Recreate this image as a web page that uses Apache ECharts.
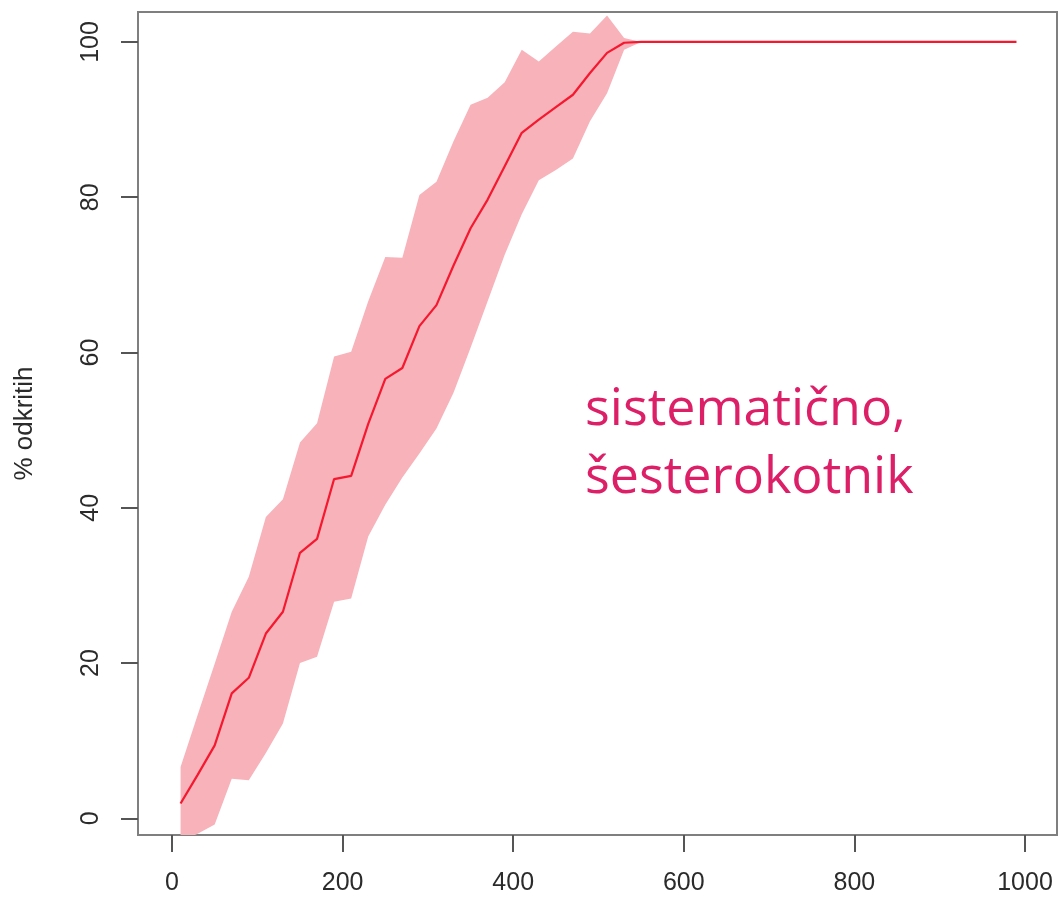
<!DOCTYPE html>
<html>
<head>
<meta charset="utf-8">
<script src="https://cdn.jsdelivr.net/npm/echarts@6/dist/echarts.min.js"></script>
<style>
  html, body { margin: 0; padding: 0; background: #ffffff; }
  #chart { width: 1061px; height: 902px; }
</style>
</head>
<body>
<div id="chart"></div>
<script>
// Number of searched cells (x) and share of found targets, mean with band
const cells = [10, 30, 50, 70, 90, 110, 130, 150, 170, 190,
               210, 230, 250, 270, 290, 310, 330, 350, 370, 390,
               410, 430, 450, 470, 490, 510, 530, 550, 570, 590,
               610, 630, 650, 670, 690, 710, 730, 750, 770, 790,
               810, 830, 850, 870, 890, 910, 930, 950, 970, 990];

const meanFound = [1.9, 5.6, 9.4, 16.1, 18.1, 23.8, 26.6, 34.2, 36.0, 43.7,
                   44.1, 50.8, 56.6, 58.0, 63.4, 66.1, 71.2, 76.0, 79.7, 84.0,
                   88.3, 90.0, 91.6, 93.2, 96.0, 98.6, 99.9, 100, 100, 100,
                   100, 100, 100, 100, 100, 100, 100, 100, 100, 100,
                   100, 100, 100, 100, 100, 100, 100, 100, 100, 100];

const upperFound = [6.6, 13.3, 19.9, 26.6, 31.1, 38.8, 41.1, 48.4, 50.9, 59.5,
                    60.1, 66.6, 72.3, 72.2, 80.3, 82.0, 87.2, 91.9, 92.8, 94.8,
                    99.0, 97.5, 99.4, 101.3, 101.1, 103.4, 100.5, 100, 100, 100,
                    100, 100, 100, 100, 100, 100, 100, 100, 100, 100,
                    100, 100, 100, 100, 100, 100, 100, 100, 100, 100];

const lowerFound = [-3.0, -2.0, -0.8, 5.1, 4.9, 8.4, 12.2, 20.0, 20.8, 27.9,
                    28.3, 36.3, 40.4, 43.9, 47.0, 50.2, 54.8, 60.6, 66.6, 72.6,
                    77.8, 82.2, 83.5, 85.0, 89.8, 93.4, 99.0, 100, 100, 100,
                    100, 100, 100, 100, 100, 100, 100, 100, 100, 100,
                    100, 100, 100, 100, 100, 100, 100, 100, 100, 100];

const xTicks = [0, 200, 400, 600, 800, 1000];
const yTicks = [0, 20, 40, 60, 80, 100];

const yTitle = '% odkritih';
const noteLines = ['sistematično,', 'šesterokotnik'];

const chart = echarts.init(document.getElementById('chart'), null, { renderer: 'canvas' });

const tickFont = { fontFamily: '"Liberation Sans", Arial, sans-serif', fontSize: 25, color: '#2b2b2b' };

// Band polygon: upper bound left-to-right, then lower bound right-to-left
function renderBand(params, api) {
  const pts = [];
  for (let i = 0; i < cells.length; i++) pts.push(api.coord([cells[i], upperFound[i]]));
  for (let i = cells.length - 1; i >= 0; i--) pts.push(api.coord([cells[i], lowerFound[i]]));
  const cs = params.coordSys;
  return {
    type: 'polygon',
    shape: { points: pts },
    style: { fill: '#f7b2ba', stroke: null },
    clipPath: { type: 'rect', shape: { x: cs.x, y: cs.y, width: cs.width, height: cs.height } }
  };
}

chart.setOption({
  backgroundColor: '#ffffff',
  animation: false,
  grid: {
    left: 138, top: 12, width: 919, height: 823,
    show: true, borderColor: '#7f7f7f', borderWidth: 2, backgroundColor: 'transparent'
  },
  xAxis: {
    type: 'value',
    min: -39.9, max: 1037.5,
    axisLine: { show: false, onZero: false },
    splitLine: { show: false },
    axisTick: { show: true, customValues: xTicks, length: 17, lineStyle: { color: '#555', width: 2 } },
    axisLabel: Object.assign({ customValues: xTicks, margin: 36, formatter: v => String(v) }, tickFont)
  },
  yAxis: {
    type: 'value',
    min: -2.15, max: 103.86,
    name: yTitle,
    nameLocation: 'middle',
    nameRotate: 90,
    nameGap: 100,
    nameTextStyle: { fontFamily: '"Liberation Sans", Arial, sans-serif', fontSize: 26, color: '#2b2b2b' },
    axisLine: { show: false, onZero: false },
    splitLine: { show: false },
    axisTick: { show: true, customValues: yTicks, length: 17, lineStyle: { color: '#555', width: 2 } },
    axisLabel: Object.assign({ customValues: yTicks, rotate: 90, margin: 34, formatter: v => String(v) }, tickFont)
  },
  graphic: [
    {
      type: 'text', left: 585, top: 384, z: 100,
      style: { text: noteLines[0], font: '52px "Open Sans", sans-serif', fill: '#dc1f66' }
    },
    {
      type: 'text', left: 585, top: 452, z: 100,
      style: { text: noteLines[1], font: '52px "Open Sans", sans-serif', fill: '#dc1f66' }
    }
  ],
  series: [
    {
      name: 'band',
      type: 'custom',
      renderItem: renderBand,
      data: [[cells[0], meanFound[0]]],
      z: 2
    },
    {
      name: 'mean',
      type: 'line',
      symbol: 'none',
      z: 5,
      lineStyle: { color: '#f5182e', width: 2.2 },
      data: cells.map((x, i) => [x, meanFound[i]])
    }
  ]
});
</script>
</body>
</html>
